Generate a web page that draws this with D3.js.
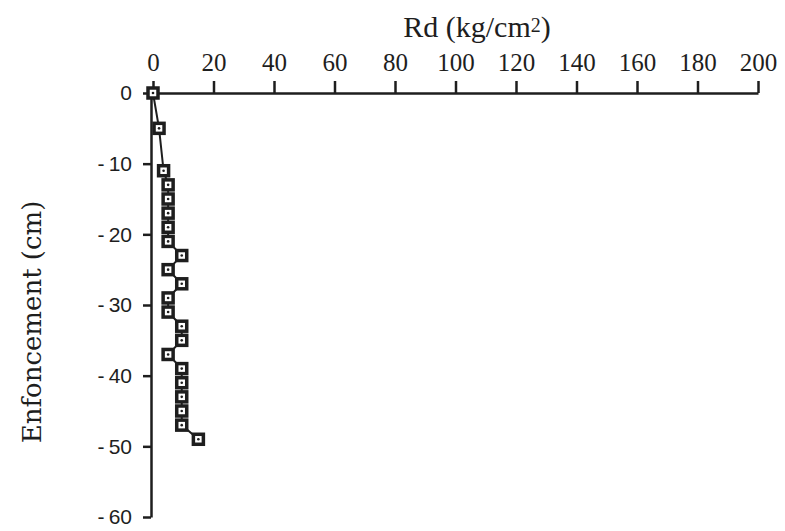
<!DOCTYPE html>
<html>
<head>
<meta charset="utf-8">
<script src="https://cdnjs.cloudflare.com/ajax/libs/d3/7.8.5/d3.min.js"></script>
<style>
  body { margin: 0; background: #fff; }
</style>
</head>
<body>
<div class="canvas"></div>
<script>
// penetration test: resistance vs depth
var depth = [0, -5, -11, -13, -15, -17, -19, -21, -23, -25, -27, -29, -31,
             -33, -35, -37, -39, -41, -43, -45, -47, -49];
var rd = [0, 2, 3.5, 5, 5, 5, 5, 5, 9.5, 5, 9.5, 5, 5,
          9.5, 9.5, 5, 9.5, 9.5, 9.5, 9.5, 9.5, 15];
var xTicks = [0, 20, 40, 60, 80, 100, 120, 140, 160, 180, 200];
var yTicks = [0, -10, -20, -30, -40, -50, -60];

var width = 785,
    height = 531,
    ink = '#1e1e1e';

var svg = d3.select('.canvas').append('svg')
    .attr('width', width)
    .attr('height', height)
    .style('display', 'block');

var x = d3.scaleLinear().domain([0, 200]).range([153, 758]),
    y = d3.scaleLinear().domain([0, -60]).range([93, 517]);

var data = depth.map(function (d, i) { return {x: rd[i], y: d}; });

// top axis
var xAxis = svg.append('g')
    .attr('transform', 'translate(0,' + y(0) + ')')
    .call(d3.axisTop(x).tickValues(xTicks).tickSize(12).tickSizeOuter(0).tickPadding(10));

xAxis.selectAll('text')
    .style('font-family', '"Liberation Serif", serif')
    .style('font-size', '25px')
    .attr('fill', ink);

// left axis
var yAxis = svg.append('g')
    .attr('transform', 'translate(151,0)')
    .call(d3.axisLeft(y).tickValues(yTicks).tickSize(8).tickSizeOuter(0).tickPadding(11)
        .tickFormat(function (d) { return d === 0 ? '0' : '-\u2009' + Math.abs(d); }));

yAxis.selectAll('text')
    .style('font-family', '"Liberation Sans", sans-serif')
    .style('font-size', '21px')
    .attr('fill', ink);

svg.selectAll('.domain, .tick line')
    .attr('stroke', ink)
    .attr('stroke-width', 2.5);

// titles
var title = svg.append('text')
    .attr('x', 477)
    .attr('y', 37)
    .attr('text-anchor', 'middle')
    .style('font-family', '"Liberation Serif", serif')
    .style('font-size', '30px')
    .attr('fill', ink);
title.append('tspan').text('Rd (kg/cm');
title.append('tspan').attr('dy', -5).style('font-size', '20px').text('2');
title.append('tspan').attr('dy', 5).text(')');

svg.append('text')
    .attr('transform', 'translate(41,322) rotate(-90)')
    .attr('text-anchor', 'middle')
    .style('font-family', '"DejaVu Serif", serif')
    .style('font-size', '26px')
    .attr('fill', ink)
    .text('Enfoncement (cm)');

// profile line
var line = d3.line()
    .x(function (d) { return x(d.x); })
    .y(function (d) { return y(d.y); });

svg.append('path')
    .datum(data)
    .attr('d', line)
    .attr('fill', 'none')
    .attr('stroke', ink)
    .attr('stroke-width', 2);

// square markers with a dot
var marks = svg.selectAll('g.mark')
    .data(data)
    .enter()
    .append('g')
    .attr('class', 'mark')
    .attr('transform', function (d) {
        return 'translate(' + x(d.x) + ',' + y(d.y) + ')';
    });

marks.append('rect')
    .attr('x', -5)
    .attr('y', -5)
    .attr('width', 10)
    .attr('height', 10)
    .attr('fill', '#fff')
    .attr('stroke', ink)
    .attr('stroke-width', 3.5);

marks.append('circle')
    .attr('r', 1.3)
    .attr('fill', ink);
</script>
</body>
</html>
